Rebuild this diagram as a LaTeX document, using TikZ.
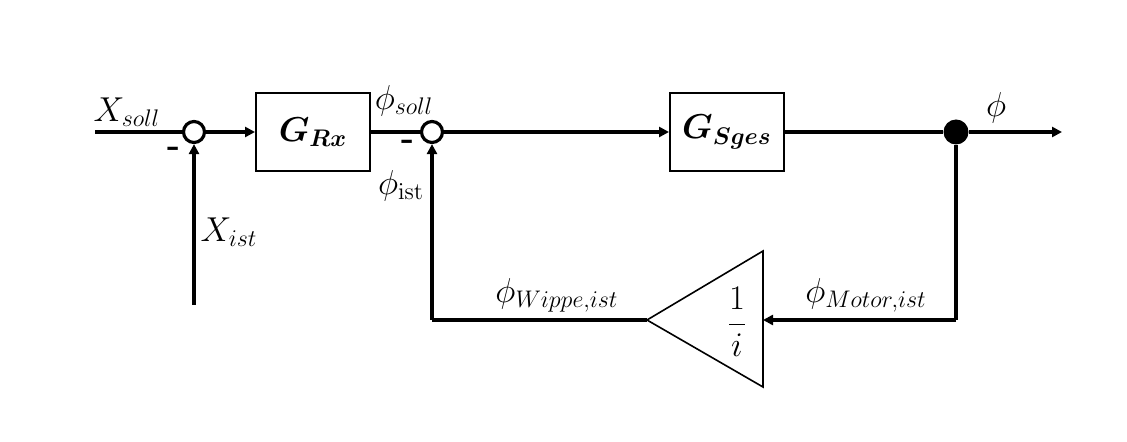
\documentclass[tikz,border=0pt]{standalone}
\usepackage{amsmath,bm}
\usetikzlibrary{arrows.meta}
\begin{document}
\begin{tikzpicture}[x=0.5pt,y=-0.5pt,
  sig/.style={line width=1.6pt},
  arr/.style={sig,-{Triangle[length=5pt,width=5pt]}},
  blk/.style={draw,line width=1pt,minimum width=57pt,minimum height=39pt,inner sep=0pt,font=\fontsize{17.28}{20}\selectfont},
  sumnode/.style={draw,circle,fill=white,line width=1.6pt,minimum size=10.5pt,inner sep=0pt},
  dotnode/.style={circle,fill=black,minimum size=12.5pt,inner sep=0pt},
  lbl/.style={inner sep=0pt,font=\fontsize{17.28}{20}\selectfont}]
\useasboundingbox (0,0) rectangle (1127,442);
% nodes
\coordinate (in) at (95,132);
\node[sumnode] (c1) at (194,132) {};
\node[blk] (grx) at (313,132) {$\bm{G_{Rx}}$};
\node[sumnode] (c2) at (432,132) {};
\node[blk] (gs) at (727,132) {$\bm{G_{Sges}}$};
\node[dotnode] (d) at (956,132) {};
\coordinate (out) at (1062,132);
\coordinate (xist) at (194,305);
\coordinate (fbr) at (956,320);
\coordinate (tip) at (647,320);
\coordinate (base) at (763,320);
\coordinate (fbl) at (432,320);
% triangle
\draw[line width=0.8pt,fill=white] (tip) -- (763,251) -- (763,387) -- cycle;
\node[lbl] (gain) at (737,322) {$\dfrac{1}{i}$};
% connectors
\draw[sig] (in) -- (c1);
\draw[arr] (c1) -- (grx);
\draw[sig] (grx) -- (c2);
\draw[arr] (c2) -- (gs);
\draw[sig] (gs) -- (d);
\draw[arr] (d) -- (out);
\draw[arr] (xist) -- (c1);
\draw[sig] (d) -- (fbr);
\draw[arr] (fbr) -- (base);
\draw[sig] (tip) -- (fbl);
\draw[arr] (fbl) -- (c2);
% labels
\node[lbl] (lxs) at (127,112) {$X_{soll}$};
\node[lbl] (m1) at (174,152) {\textbf{-}};
\node[lbl] (lxi) at (229,232) {$X_{ist}$};
\node[lbl] (lps) at (404,101) {$\phi_{soll}$};
\node[lbl] (m2) at (408,145) {\textbf{-}};
\node[lbl] (lpi) at (401,186) {$\phi_{\mathrm{ist}}$};
\node[lbl] (lp) at (996,108) {$\phi$};
\node[lbl] (lpw) at (557,295) {$\phi_{Wippe,ist}$};
\node[lbl] (lpm) at (866,295) {$\phi_{Motor,ist}$};
\end{tikzpicture}
\end{document}
